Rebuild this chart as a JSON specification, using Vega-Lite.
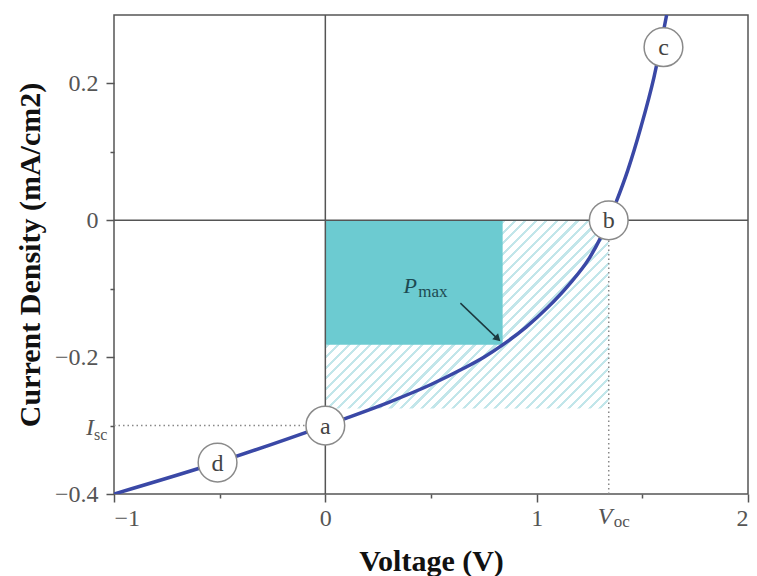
{
  "$schema": "https://vega.github.io/schema/vega-lite/v6.json",
  "width": 634,
  "height": 479,
  "autosize": "none",
  "padding": {"left": 114, "top": 15, "right": 9, "bottom": 82},
  "background": "#ffffff",
  "config": {
    "view": {"stroke": "#555555", "strokeWidth": 1.5},
    "axis": {
      "domain": false,
      "grid": false,
      "labelFont": "Liberation Serif",
      "labelFontSize": 24,
      "labelColor": "#555555",
      "tickColor": "#555555",
      "tickWidth": 1.5,
      "titleFont": "Liberation Serif",
      "titleFontSize": 30,
      "titleFontWeight": "bold",
      "titleColor": "#111111"
    }
  },
  "datasets": {
    "curve": [
      {"x": -1, "y": -0.4},
      {"x": -0.51, "y": -0.354},
      {"x": 0, "y": -0.3},
      {"x": 0.1, "y": -0.289},
      {"x": 0.3, "y": -0.266},
      {"x": 0.5, "y": -0.24},
      {"x": 0.65, "y": -0.217},
      {"x": 0.75, "y": -0.2},
      {"x": 0.839, "y": -0.182},
      {"x": 0.95, "y": -0.156},
      {"x": 1.05, "y": -0.128},
      {"x": 1.15, "y": -0.095},
      {"x": 1.25, "y": -0.055},
      {"x": 1.341, "y": 0},
      {"x": 1.374, "y": 0.025},
      {"x": 1.431, "y": 0.073},
      {"x": 1.493, "y": 0.136},
      {"x": 1.555, "y": 0.209},
      {"x": 1.615, "y": 0.3}
    ],
    "points": [
      {"x": 0, "y": -0.3, "t": "a"},
      {"x": 1.341, "y": 0, "t": "b"},
      {"x": 1.6, "y": 0.253, "t": "c"},
      {"x": -0.51, "y": -0.354, "t": "d"}
    ]
  },
  "encoding": {
    "x": {
      "field": "x", "type": "quantitative",
      "scale": {"domain": [-1, 2], "nice": false, "zero": false},
      "axis": {
        "title": "Voltage (V)",
        "values": [-1, -0.5, 0, 0.5, 1, 1.5, 2],
        "labelExpr": "datum.value % 1 === 0 ? format(datum.value, '~g') : ''",
        "tickSize": {"condition": {"test": "datum.value % 1 !== 0", "value": 4}, "value": 8},
        "labelPadding": 4,
        "titleY": 76,
        "titleBaseline": "alphabetic"
      }
    },
    "y": {
      "field": "y", "type": "quantitative",
      "scale": {"domain": [-0.4, 0.3], "nice": false, "zero": false},
      "axis": {
        "title": "Current Density (mA/cm2)",
        "values": [-0.4, -0.3, -0.2, -0.1, 0, 0.1, 0.2],
        "labelExpr": "round(datum.value * 10) % 2 === 0 ? format(datum.value, '~g') : ''",
        "tickSize": {"condition": {"test": "round(datum.value * 10) % 2 !== 0", "value": 4}, "value": 8},
        "labelPadding": 8,
        "titleX": -84,
        "titleBaseline": "middle"
      }
    }
  },
  "layer": [
    {
      "data": {"values": [{"x": 0, "x2": 1.34, "y": 0, "y2": -0.275}]},
      "mark": {
        "type": "rect",
        "fill": {
          "gradient": "linear", "x1": 0, "y1": 0, "x2": 1.1546, "y2": 0.7673,
          "stops": [
            {"offset": 0, "color": "#c2e6ea"}, {"offset": 0.0067, "color": "#c2e6ea"}, {"offset": 0.0067, "color": "#ffffff"}, {"offset": 0.0222, "color": "#ffffff"},
            {"offset": 0.0222, "color": "#c2e6ea"}, {"offset": 0.0289, "color": "#c2e6ea"}, {"offset": 0.0289, "color": "#ffffff"}, {"offset": 0.0444, "color": "#ffffff"},
            {"offset": 0.0444, "color": "#c2e6ea"}, {"offset": 0.0511, "color": "#c2e6ea"}, {"offset": 0.0511, "color": "#ffffff"}, {"offset": 0.0667, "color": "#ffffff"},
            {"offset": 0.0667, "color": "#c2e6ea"}, {"offset": 0.0733, "color": "#c2e6ea"}, {"offset": 0.0733, "color": "#ffffff"}, {"offset": 0.0889, "color": "#ffffff"},
            {"offset": 0.0889, "color": "#c2e6ea"}, {"offset": 0.0956, "color": "#c2e6ea"}, {"offset": 0.0956, "color": "#ffffff"}, {"offset": 0.1111, "color": "#ffffff"},
            {"offset": 0.1111, "color": "#c2e6ea"}, {"offset": 0.1178, "color": "#c2e6ea"}, {"offset": 0.1178, "color": "#ffffff"}, {"offset": 0.1333, "color": "#ffffff"},
            {"offset": 0.1333, "color": "#c2e6ea"}, {"offset": 0.14, "color": "#c2e6ea"}, {"offset": 0.14, "color": "#ffffff"}, {"offset": 0.1556, "color": "#ffffff"},
            {"offset": 0.1556, "color": "#c2e6ea"}, {"offset": 0.1622, "color": "#c2e6ea"}, {"offset": 0.1622, "color": "#ffffff"}, {"offset": 0.1778, "color": "#ffffff"},
            {"offset": 0.1778, "color": "#c2e6ea"}, {"offset": 0.1844, "color": "#c2e6ea"}, {"offset": 0.1844, "color": "#ffffff"}, {"offset": 0.2, "color": "#ffffff"},
            {"offset": 0.2, "color": "#c2e6ea"}, {"offset": 0.2067, "color": "#c2e6ea"}, {"offset": 0.2067, "color": "#ffffff"}, {"offset": 0.2222, "color": "#ffffff"},
            {"offset": 0.2222, "color": "#c2e6ea"}, {"offset": 0.2289, "color": "#c2e6ea"}, {"offset": 0.2289, "color": "#ffffff"}, {"offset": 0.2444, "color": "#ffffff"},
            {"offset": 0.2444, "color": "#c2e6ea"}, {"offset": 0.2511, "color": "#c2e6ea"}, {"offset": 0.2511, "color": "#ffffff"}, {"offset": 0.2667, "color": "#ffffff"},
            {"offset": 0.2667, "color": "#c2e6ea"}, {"offset": 0.2733, "color": "#c2e6ea"}, {"offset": 0.2733, "color": "#ffffff"}, {"offset": 0.2889, "color": "#ffffff"},
            {"offset": 0.2889, "color": "#c2e6ea"}, {"offset": 0.2956, "color": "#c2e6ea"}, {"offset": 0.2956, "color": "#ffffff"}, {"offset": 0.3111, "color": "#ffffff"},
            {"offset": 0.3111, "color": "#c2e6ea"}, {"offset": 0.3178, "color": "#c2e6ea"}, {"offset": 0.3178, "color": "#ffffff"}, {"offset": 0.3333, "color": "#ffffff"},
            {"offset": 0.3333, "color": "#c2e6ea"}, {"offset": 0.34, "color": "#c2e6ea"}, {"offset": 0.34, "color": "#ffffff"}, {"offset": 0.3556, "color": "#ffffff"},
            {"offset": 0.3556, "color": "#c2e6ea"}, {"offset": 0.3622, "color": "#c2e6ea"}, {"offset": 0.3622, "color": "#ffffff"}, {"offset": 0.3778, "color": "#ffffff"},
            {"offset": 0.3778, "color": "#c2e6ea"}, {"offset": 0.3844, "color": "#c2e6ea"}, {"offset": 0.3844, "color": "#ffffff"}, {"offset": 0.4, "color": "#ffffff"},
            {"offset": 0.4, "color": "#c2e6ea"}, {"offset": 0.4067, "color": "#c2e6ea"}, {"offset": 0.4067, "color": "#ffffff"}, {"offset": 0.4222, "color": "#ffffff"},
            {"offset": 0.4222, "color": "#c2e6ea"}, {"offset": 0.4289, "color": "#c2e6ea"}, {"offset": 0.4289, "color": "#ffffff"}, {"offset": 0.4444, "color": "#ffffff"},
            {"offset": 0.4444, "color": "#c2e6ea"}, {"offset": 0.4511, "color": "#c2e6ea"}, {"offset": 0.4511, "color": "#ffffff"}, {"offset": 0.4667, "color": "#ffffff"},
            {"offset": 0.4667, "color": "#c2e6ea"}, {"offset": 0.4733, "color": "#c2e6ea"}, {"offset": 0.4733, "color": "#ffffff"}, {"offset": 0.4889, "color": "#ffffff"},
            {"offset": 0.4889, "color": "#c2e6ea"}, {"offset": 0.4956, "color": "#c2e6ea"}, {"offset": 0.4956, "color": "#ffffff"}, {"offset": 0.5111, "color": "#ffffff"},
            {"offset": 0.5111, "color": "#c2e6ea"}, {"offset": 0.5178, "color": "#c2e6ea"}, {"offset": 0.5178, "color": "#ffffff"}, {"offset": 0.5333, "color": "#ffffff"},
            {"offset": 0.5333, "color": "#c2e6ea"}, {"offset": 0.54, "color": "#c2e6ea"}, {"offset": 0.54, "color": "#ffffff"}, {"offset": 0.5556, "color": "#ffffff"},
            {"offset": 0.5556, "color": "#c2e6ea"}, {"offset": 0.5622, "color": "#c2e6ea"}, {"offset": 0.5622, "color": "#ffffff"}, {"offset": 0.5778, "color": "#ffffff"},
            {"offset": 0.5778, "color": "#c2e6ea"}, {"offset": 0.5844, "color": "#c2e6ea"}, {"offset": 0.5844, "color": "#ffffff"}, {"offset": 0.6, "color": "#ffffff"},
            {"offset": 0.6, "color": "#c2e6ea"}, {"offset": 0.6067, "color": "#c2e6ea"}, {"offset": 0.6067, "color": "#ffffff"}, {"offset": 0.6222, "color": "#ffffff"},
            {"offset": 0.6222, "color": "#c2e6ea"}, {"offset": 0.6289, "color": "#c2e6ea"}, {"offset": 0.6289, "color": "#ffffff"}, {"offset": 0.6444, "color": "#ffffff"},
            {"offset": 0.6444, "color": "#c2e6ea"}, {"offset": 0.6511, "color": "#c2e6ea"}, {"offset": 0.6511, "color": "#ffffff"}, {"offset": 0.6667, "color": "#ffffff"},
            {"offset": 0.6667, "color": "#c2e6ea"}, {"offset": 0.6733, "color": "#c2e6ea"}, {"offset": 0.6733, "color": "#ffffff"}, {"offset": 0.6889, "color": "#ffffff"},
            {"offset": 0.6889, "color": "#c2e6ea"}, {"offset": 0.6956, "color": "#c2e6ea"}, {"offset": 0.6956, "color": "#ffffff"}, {"offset": 0.7111, "color": "#ffffff"},
            {"offset": 0.7111, "color": "#c2e6ea"}, {"offset": 0.7178, "color": "#c2e6ea"}, {"offset": 0.7178, "color": "#ffffff"}, {"offset": 0.7333, "color": "#ffffff"},
            {"offset": 0.7333, "color": "#c2e6ea"}, {"offset": 0.74, "color": "#c2e6ea"}, {"offset": 0.74, "color": "#ffffff"}, {"offset": 0.7556, "color": "#ffffff"},
            {"offset": 0.7556, "color": "#c2e6ea"}, {"offset": 0.7622, "color": "#c2e6ea"}, {"offset": 0.7622, "color": "#ffffff"}, {"offset": 0.7778, "color": "#ffffff"},
            {"offset": 0.7778, "color": "#c2e6ea"}, {"offset": 0.7844, "color": "#c2e6ea"}, {"offset": 0.7844, "color": "#ffffff"}, {"offset": 0.8, "color": "#ffffff"},
            {"offset": 0.8, "color": "#c2e6ea"}, {"offset": 0.8067, "color": "#c2e6ea"}, {"offset": 0.8067, "color": "#ffffff"}, {"offset": 0.8222, "color": "#ffffff"},
            {"offset": 0.8222, "color": "#c2e6ea"}, {"offset": 0.8289, "color": "#c2e6ea"}, {"offset": 0.8289, "color": "#ffffff"}, {"offset": 0.8444, "color": "#ffffff"},
            {"offset": 0.8444, "color": "#c2e6ea"}, {"offset": 0.8511, "color": "#c2e6ea"}, {"offset": 0.8511, "color": "#ffffff"}, {"offset": 0.8667, "color": "#ffffff"},
            {"offset": 0.8667, "color": "#c2e6ea"}, {"offset": 0.8733, "color": "#c2e6ea"}, {"offset": 0.8733, "color": "#ffffff"}, {"offset": 0.8889, "color": "#ffffff"},
            {"offset": 0.8889, "color": "#c2e6ea"}, {"offset": 0.8956, "color": "#c2e6ea"}, {"offset": 0.8956, "color": "#ffffff"}, {"offset": 0.9111, "color": "#ffffff"},
            {"offset": 0.9111, "color": "#c2e6ea"}, {"offset": 0.9178, "color": "#c2e6ea"}, {"offset": 0.9178, "color": "#ffffff"}, {"offset": 0.9333, "color": "#ffffff"},
            {"offset": 0.9333, "color": "#c2e6ea"}, {"offset": 0.94, "color": "#c2e6ea"}, {"offset": 0.94, "color": "#ffffff"}, {"offset": 0.9556, "color": "#ffffff"},
            {"offset": 0.9556, "color": "#c2e6ea"}, {"offset": 0.9622, "color": "#c2e6ea"}, {"offset": 0.9622, "color": "#ffffff"}, {"offset": 0.9778, "color": "#ffffff"},
            {"offset": 0.9778, "color": "#c2e6ea"}, {"offset": 0.9844, "color": "#c2e6ea"}, {"offset": 0.9844, "color": "#ffffff"}, {"offset": 1, "color": "#ffffff"}
          ]
        }
      },
      "encoding": {"x2": {"field": "x2"}, "y2": {"field": "y2"}}
    },
    {
      "data": {"values": [{"x": 0, "x2": 0.839, "y": 0, "y2": -0.182}]},
      "mark": {"type": "rect", "fill": "#6ccbd1"},
      "encoding": {"x2": {"field": "x2"}, "y2": {"field": "y2"}}
    },
    {
      "data": {"values": [{"x": 0, "y": -0.4, "y2": 0.3}]},
      "mark": {"type": "rule", "stroke": "#555555", "strokeWidth": 1.5},
      "encoding": {"y2": {"field": "y2"}}
    },
    {
      "data": {"values": [{"x": -1, "x2": 2, "y": 0}]},
      "mark": {"type": "rule", "stroke": "#555555", "strokeWidth": 1.5},
      "encoding": {"x2": {"field": "x2"}}
    },
    {
      "data": {"values": [{"x": -1, "x2": 0, "y": -0.3}]},
      "mark": {"type": "rule", "stroke": "#888888", "strokeWidth": 1.5, "strokeDash": [1.5, 3]},
      "encoding": {"x2": {"field": "x2"}}
    },
    {
      "data": {"values": [{"x": 1.341, "y": -0.4, "y2": 0}]},
      "mark": {"type": "rule", "stroke": "#888888", "strokeWidth": 1.5, "strokeDash": [1.5, 3]},
      "encoding": {"y2": {"field": "y2"}}
    },
    {
      "data": {"name": "curve"},
      "mark": {"type": "line", "stroke": "#3a48a6", "strokeWidth": 3.5, "interpolate": "monotone", "clip": true},
      "encoding": {}
    },
    {
      "data": {"values": [{"x": 0.639, "y": -0.121, "x2": 0.818, "y2": -0.174}]},
      "mark": {"type": "rule", "stroke": "#1c3a40", "strokeWidth": 1.5},
      "encoding": {"x2": {"field": "x2"}, "y2": {"field": "y2"}}
    },
    {
      "data": {"values": [{"x": 0.816, "y": -0.173}]},
      "mark": {"type": "point", "shape": "triangle-up", "filled": true, "fill": "#1c3a40", "size": 70, "angle": 134, "opacity": 1},
      "encoding": {}
    },
    {
      "data": {"name": "points"},
      "mark": {"type": "point", "shape": "circle", "filled": true, "fill": "#ffffff", "stroke": "#8a8a8a", "strokeWidth": 1.5, "size": 1500, "opacity": 1},
      "encoding": {}
    },
    {
      "data": {"name": "points"},
      "mark": {"type": "text", "font": "Liberation Serif", "fontSize": 24, "color": "#444444", "baseline": "middle", "align": "center", "dy": 1},
      "encoding": {"text": {"field": "t"}}
    },
    {
      "data": {"values": [{"x": 0.402, "y": -0.1067, "t": "P"}]},
      "mark": {"type": "text", "font": "Liberation Serif", "fontStyle": "italic", "fontSize": 22, "color": "#1d4a52", "baseline": "alphabetic", "align": "center"},
      "encoding": {"text": {"field": "t"}}
    },
    {
      "data": {"values": [{"x": 0.44, "y": -0.1125, "t": "max"}]},
      "mark": {"type": "text", "font": "Liberation Serif", "fontSize": 17, "color": "#1d4a52", "baseline": "alphabetic", "align": "left"},
      "encoding": {"text": {"field": "t"}}
    },
    {
      "data": {"values": [{"x": -1, "y": -0.3, "t": "I"}]},
      "mark": {"type": "text", "font": "Liberation Serif", "fontStyle": "italic", "fontSize": 24, "color": "#555555", "baseline": "alphabetic", "align": "right", "dx": -20, "dy": 9},
      "encoding": {"text": {"field": "t"}}
    },
    {
      "data": {"values": [{"x": -1, "y": -0.3, "t": "sc"}]},
      "mark": {"type": "text", "font": "Liberation Serif", "fontSize": 16, "color": "#555555", "baseline": "alphabetic", "align": "left", "dx": -20, "dy": 14},
      "encoding": {"text": {"field": "t"}}
    },
    {
      "data": {"values": [{"x": 1.341, "y": -0.4, "t": "V"}]},
      "mark": {"type": "text", "font": "Liberation Serif", "fontStyle": "italic", "fontSize": 24, "color": "#555555", "baseline": "alphabetic", "align": "left", "dx": -11, "dy": 30},
      "encoding": {"text": {"field": "t"}}
    },
    {
      "data": {"values": [{"x": 1.341, "y": -0.4, "t": "oc"}]},
      "mark": {"type": "text", "font": "Liberation Serif", "fontSize": 17, "color": "#555555", "baseline": "alphabetic", "align": "left", "dx": 5, "dy": 33},
      "encoding": {"text": {"field": "t"}}
    }
  ]
}
